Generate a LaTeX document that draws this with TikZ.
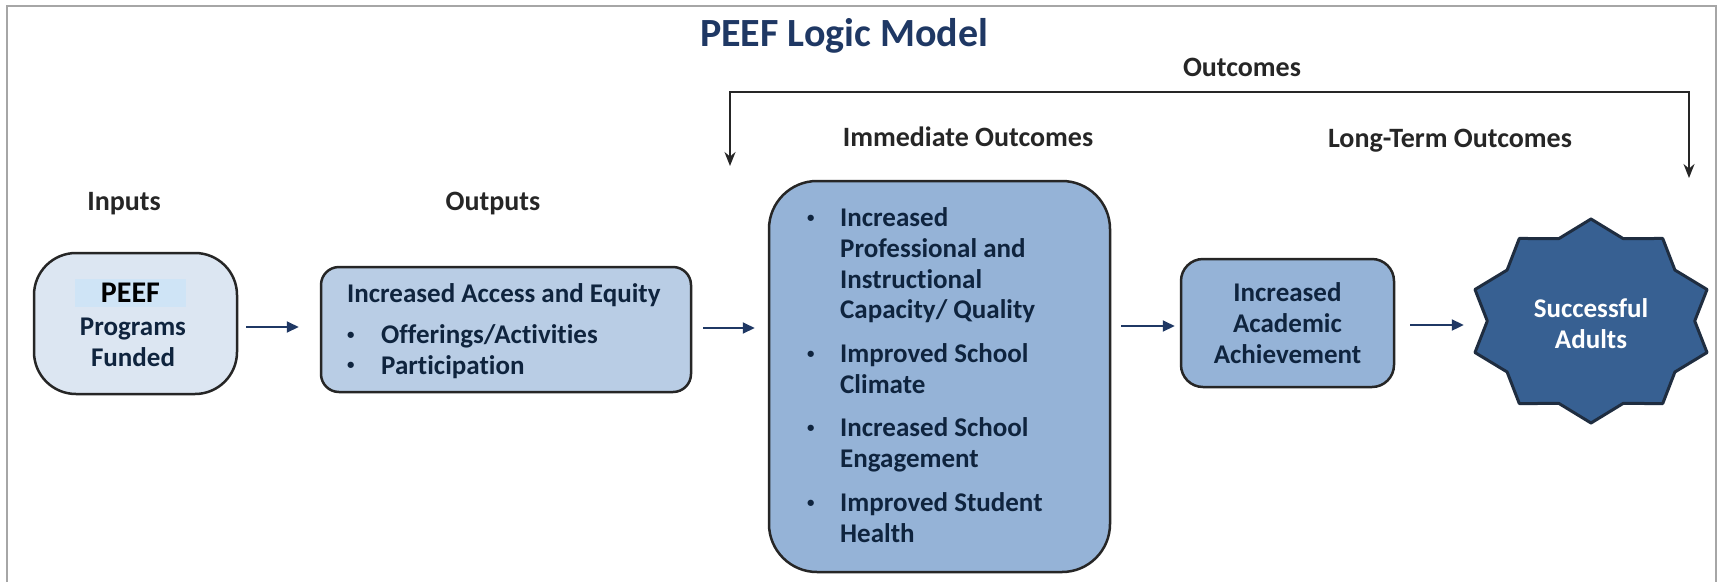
\documentclass[tikz,border=0pt]{standalone}
\usepackage{graphicx}
\usepackage{fontspec}
\setmainfont{Carlito}[Ligatures=NoCommon]
\usetikzlibrary{arrows.meta}

\definecolor{ink}{HTML}{0F243E}
\definecolor{titlenavy}{HTML}{1F3864}
\definecolor{arrownavy}{HTML}{1F3864}
\definecolor{edge}{HTML}{262626}
\definecolor{frame}{HTML}{A6A6A6}
\definecolor{inputfill}{HTML}{DCE6F2}
\definecolor{peefhl}{HTML}{CFE4F6}
\definecolor{outputfill}{HTML}{B9CDE5}
\definecolor{immfill}{HTML}{95B3D7}
\definecolor{achfill}{HTML}{95B3D7}
\definecolor{goalfill}{HTML}{376092}
\definecolor{goaledge}{HTML}{1F2D40}

% small bullet with a fixed hanging indent
\newcommand{\smallbullet}{\raisebox{0.16em}{\scalebox{0.55}{\textbullet}}}
\newcommand{\itm}[2]{\makebox[#1][l]{\smallbullet}#2}

\begin{document}
\begin{tikzpicture}[x=1pt,y=-1pt,
  boxtext/.style={font=\bfseries\fontsize{27}{30.7}\selectfont, text=ink},
  heading/.style={font=\bfseries\fontsize{28}{32}\selectfont, text=black!85},
  box/.style={draw=edge, line width=2.5pt, inner sep=0pt},
  flow/.style={draw=arrownavy, line width=2pt, -{Triangle[length=12pt,width=11pt]}},
  bracket/.style={draw=black!85, line width=2pt, line cap=butt,
    {Stealth[length=14pt,width=11pt]}-{Stealth[length=14pt,width=11pt]}}]

\useasboundingbox (0,0) rectangle (1719,582);
\fill[white] (0,0) rectangle (1719,582);

% outer frame (open at the bottom)
\draw[frame, line width=2.5pt] (7,582) -- (7,6) -- (1716,6) -- (1716,582);

% title
\node[font=\bfseries\fontsize{40}{44}\selectfont, text=titlenavy] (title) at (844,36) {PEEF Logic Model};

% column headings
\node[heading] (hin)  at (124,204)  {Inputs};
\node[heading] (hout) at (493,204)  {Outputs};
\node[heading] (hoc)  at (1242,67)  {Outcomes};
\node[heading] (himm) at (968,137)  {Immediate Outcomes};
\node[heading] (hlt)  at (1450,141) {Long-Term Outcomes};

% outcomes bracket
\coordinate (bl) at (730,166);
\coordinate (br) at (1689,178);
\coordinate (btop) at (1689,92);
\draw[bracket] (bl) |- (btop) -- (br);

% inputs
\node[box, fill=inputfill, rounded corners=42pt, minimum width=203pt, minimum height=141pt] (in) at (135.5,323.5) {};
\node[fill=peefhl, minimum width=111pt, minimum height=28pt, inner sep=0pt,
      font=\bfseries\fontsize{30}{30}\selectfont, text=black] (peef) at (130.5,293) {PEEF};
\node[boxtext, align=center, inner sep=0pt] (fund) at (133,342) {Programs\\Funded};

% outputs
\node[box, fill=outputfill, rounded corners=18pt, minimum width=370pt, minimum height=125pt] (out) at (506,329.5) {};
\node[boxtext, align=left, inner sep=0pt, anchor=west] (outtext) at (347,331)
  {Increased Access and Equity\\[10pt]
   \itm{34pt}{Offerings/Activities}\\
   \itm{34pt}{Participation}};

% immediate outcomes
\node[box, fill=immfill, rounded corners=48pt, minimum width=341pt, minimum height=391pt] (imm) at (939.5,376.5) {};
\node[boxtext, align=left, inner sep=0pt, anchor=west] (immtext) at (807,375)
  {\itm{33pt}{Increased}\\
   \hspace*{33pt}Professional and\\
   \hspace*{33pt}Instructional\\
   \hspace*{33pt}Capacity/ Quality\\[13pt]
   \itm{33pt}{Improved School}\\
   \hspace*{33pt}Climate\\[13pt]
   \itm{33pt}{Increased School}\\
   \hspace*{33pt}Engagement\\[13pt]
   \itm{33pt}{Improved Student}\\
   \hspace*{33pt}Health};

% long-term outcome
\node[box, fill=achfill, rounded corners=22pt, minimum width=213pt, minimum height=128pt,
      boxtext, align=center] (ach) at (1287.5,323) {Increased\\Academic\\Achievement};

% goal star (ten points)
\draw[fill=goalfill, draw=goaledge, line width=3pt, line join=round]
  plot[samples at={0,...,19}]
  ({1591+122*(1-0.15*mod(\x,2))*cos(90+18*\x)},
   {321-102*(1-0.15*mod(\x,2))*sin(90+18*\x)}) -- cycle;
\node[minimum width=232pt, minimum height=204pt, inner sep=0pt, align=center,
      font=\bfseries\fontsize{27}{31}\selectfont, text=white] (goal) at (1591,324) {Successful\\Adults};

% flow arrows
\draw[flow, shorten <=8pt, shorten >=21pt] (in.east |- 0,327) -- (out.west |- 0,327);
\draw[flow, shorten <=11pt, shorten >=13pt] (out.east |- 0,328) -- (imm.west |- 0,328);
\draw[flow, shorten <=10pt, shorten >=5pt] (imm.east |- 0,326) -- (ach.west |- 0,326);
\draw[flow, shorten <=15pt, shorten >=11pt] (ach.east |- 0,325) -- (goal.west |- 0,325);

\end{tikzpicture}
\end{document}
